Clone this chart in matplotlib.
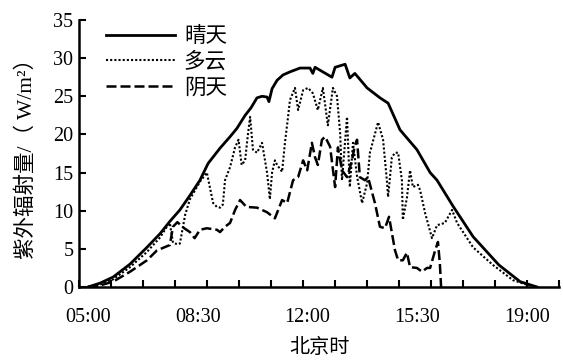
import matplotlib
matplotlib.use("Agg")
import matplotlib.pyplot as plt
import numpy as np

# 时间（小时，北京时）与紫外辐射量 (W/m²)
qing_t = [5.00, 5.38, 5.80, 6.34, 6.88, 7.30, 7.61, 7.93, 8.25, 8.57, 8.83, 9.21, 9.53, 9.75,
          10.01, 10.20, 10.39, 10.55, 10.71, 10.77, 10.87, 11.03, 11.22, 11.44, 11.76, 12.08,
          12.17, 12.24, 12.49, 12.78, 12.88, 13.20, 13.35, 13.51, 13.90, 14.31, 14.57, 14.95,
          15.49, 15.91, 16.13, 16.64, 17.28, 18.10, 18.78, 19.32]
qing_v = [0, 0.5, 1.3, 3.0, 5.2, 7.0, 8.6, 10.1, 12.0, 14.0, 16.2, 18.2, 19.7, 20.8,
          22.5, 23.5, 24.8, 25.0, 24.9, 24.3, 26.0, 27.1, 27.8, 28.2, 28.7, 28.7,
          28.0, 28.8, 28.2, 27.5, 28.8, 29.2, 27.4, 28.0, 26.1, 24.8, 24.1, 20.6,
          18.0, 15.0, 14.0, 10.6, 6.6, 2.9, 0.7, 0]

duoyun_t = [5.00, 5.38, 5.80, 6.34, 6.88, 7.30, 7.50, 7.61, 7.71, 7.85, 7.93, 8.10, 8.25, 8.57,
            8.79, 8.99, 9.11, 9.21, 9.30, 9.37, 9.53, 9.69, 9.80, 9.90, 10.01, 10.10, 10.17,
            10.26, 10.39, 10.55, 10.71, 10.80, 10.87, 10.96, 11.03, 11.19, 11.28, 11.38, 11.44,
            11.60, 11.70, 11.86, 12.02, 12.17, 12.33, 12.49, 12.65, 12.81, 12.94, 13.04, 13.10,
            13.26, 13.35, 13.45, 13.58, 13.74, 13.90, 13.99, 14.25, 14.41, 14.53, 14.57, 14.69,
            14.79, 14.89, 15.01, 15.04, 15.17, 15.27, 15.36, 15.52, 15.59, 15.75, 15.97, 16.13,
            16.38, 16.61, 16.77, 17.28, 17.91, 18.55, 19.00, 19.25]
duoyun_v = [0, 0.3, 1.0, 2.6, 4.6, 6.5, 7.8, 8.4, 5.8, 5.6, 5.7, 9.5, 11.5, 13.8,
            15.0, 11.0, 10.5, 10.4, 10.8, 14.0, 15.7, 18.3, 19.3, 16.0, 16.6, 20.0, 22.3,
            18.0, 17.6, 18.9, 15.0, 11.5, 15.0, 16.6, 16.0, 15.1, 18.9, 22.3, 24.5,
            26.1, 23.2, 25.8, 26.1, 25.4, 23.2, 26.1, 21.2, 26.1, 25.0, 20.2, 14.0,
            22.3, 13.1, 18.9, 14.5, 11.0, 13.6, 17.6, 21.6, 19.3, 14.0, 11.8, 17.0,
            17.6, 17.6, 14.0, 8.8, 11.7, 15.3, 13.1, 13.4, 12.7, 9.7, 6.4, 8.1,
            8.4, 10.1, 8.4, 5.2, 2.9, 0.9, 0.3, 0]

yin_t = [5.00, 5.38, 5.80, 6.34, 6.88, 7.20, 7.61, 7.71, 7.85, 8.07, 8.25, 8.40, 8.57, 8.79,
         9.11, 9.21, 9.37, 9.53, 9.69, 9.85, 10.05, 10.39, 10.71, 10.96, 11.19, 11.35, 11.54,
         11.70, 11.86, 11.99, 12.14, 12.24, 12.33, 12.46, 12.56, 12.72, 12.88, 12.97, 13.10,
         13.26, 13.42, 13.51, 13.58, 13.67, 13.83, 13.93, 14.15, 14.31, 14.47, 14.60, 14.79,
         14.89, 15.04, 15.17, 15.27, 15.49, 15.65, 15.81, 15.91, 16.07, 16.16, 16.22, 16.26]
yin_v = [0, 0.2, 0.7, 2.0, 3.5, 4.8, 5.5, 7.9, 8.5, 7.7, 7.2, 6.4, 7.5, 7.7,
         7.5, 7.2, 7.9, 8.4, 10.1, 11.4, 10.5, 10.4, 9.8, 9.0, 11.4, 11.0, 14.0,
         14.4, 16.6, 15.3, 18.9, 17.0, 16.0, 19.3, 19.7, 18.4, 13.1, 18.3, 15.3,
         14.4, 16.6, 18.6, 19.3, 14.4, 14.0, 14.4, 11.0, 7.9, 7.7, 9.2, 4.8,
         3.5, 3.5, 4.5, 2.6, 2.5, 2.0, 2.5, 2.5, 4.8, 5.9, 3.1, 0]

tick_pos = [5, 8.5, 12, 15.5, 19]
tick_lab = ["05:00", "08:30", "12:00", "15:30", "19:00"]

cjk = ["Noto Sans CJK SC", "DejaVu Sans"]
serif_cjk = ["Liberation Serif", "Noto Sans CJK SC"]

fig = plt.figure(figsize=(5.63, 3.63), dpi=100)
ax = fig.add_axes([79 / 563, 76 / 363, 480 / 563, 267 / 363])

ax.plot(qing_t, qing_v, color="black", lw=2.0, ls="-", label="晴天")
ax.plot(duoyun_t, duoyun_v, color="black", lw=1.5, ls=(0, (1, 1)), label="多云")
ax.plot(yin_t, yin_v, color="black", lw=1.8, ls=(0, (4, 1.6)), label="阴天")

xmin, xmax = 4.713, 20.02
ax.set_xlim(xmin, xmax)
ax.set_ylim(0, 35)
ax.set_yticks(np.arange(0, 36, 5))
ax.set_xticks(tick_pos)
ax.set_xticklabels(tick_lab)
ax.set_xticks(np.linspace(xmin, xmax, 16), minor=True)

for s in ["top", "right"]:
    ax.spines[s].set_visible(False)
for s in ["left", "bottom"]:
    ax.spines[s].set_linewidth(1.8)

ax.tick_params(axis="x", which="major", length=0, pad=15)
ax.tick_params(axis="x", which="minor", direction="in", length=5, width=1.5)
ax.tick_params(axis="y", direction="in", length=5, width=1.5, pad=4)
for lab in ax.get_xticklabels() + ax.get_yticklabels():
    lab.set_fontfamily("Liberation Serif")
    lab.set_fontsize(14.5)

ax.set_xlabel("北京时", family=cjk, fontsize=14.5, va="center")
ax.xaxis.set_label_coords(0.5, -0.228)
ax.set_ylabel("紫外辐射量/（ W/m²）", family=serif_cjk, fontsize=15.5)
ax.yaxis.set_label_coords(-0.088, 0.5)

ax.legend(loc="upper left", bbox_to_anchor=(0.057, 0.98), frameon=False,
          prop={"family": cjk, "size": 15.5}, handlelength=3.2, handletextpad=0.4,
          labelspacing=0.16, borderpad=0, borderaxespad=0)

fig.savefig("out.png", dpi=100)
